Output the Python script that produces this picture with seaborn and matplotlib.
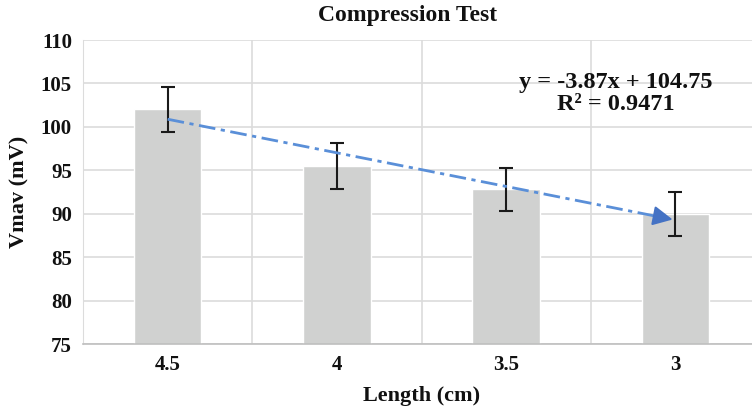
import numpy as np
import pandas as pd
import seaborn as sns
from matplotlib import pyplot as plt

# values
lengths = ['4.5', '4', '3.5', '3']
vmav = [102.0, 95.5, 92.8, 90.0]
err = [2.6, 2.6, 2.5, 2.55]

df = pd.DataFrame({'Length': lengths, 'Vmav': vmav})

sns.set_style('whitegrid')
plt.rcParams['font.family'] = ['Liberation Serif', 'DejaVu Serif']
plt.rcParams['font.weight'] = 'bold'
plt.rcParams['text.color'] = '#111111'
plt.rcParams['axes.labelcolor'] = '#111111'
plt.rcParams['xtick.color'] = '#111111'
plt.rcParams['ytick.color'] = '#111111'

fig = plt.figure(figsize=(7.52, 4.09), dpi=100)
ax = fig.add_axes([83 / 752, 1 - 344 / 409, 677 / 752, 304 / 409])

sns.barplot(data=df, x='Length', y='Vmav', color='#d0d1d0', width=0.4,
            saturation=1, errorbar=None, ax=ax, zorder=2)
ax.errorbar(range(len(lengths)), vmav, yerr=err, fmt='none', ecolor='#1a1a1a',
            elinewidth=1.5, capsize=5, capthick=1.5, zorder=3)

# linear trendline (Excel style: x = 1..n)
xs = np.arange(1, len(vmav) + 1)
slope, icpt = np.polyfit(xs, vmav, 1)
trend = slope * xs + icpt
pos = np.arange(len(vmav))
ax.plot(pos[:-1].tolist() + [pos[-1] - 0.1], list(trend[:-1]) + [slope * (xs[-1] - 0.1) + icpt],
        color='#5a8fd8', lw=2.0, ls=(0, (6, 2, 1.5, 2)), zorder=4)
ax.annotate('', xy=(pos[-1], trend[-1]), xytext=(pos[-1] - 0.14, slope * (xs[-1] - 0.14) + icpt),
            arrowprops=dict(arrowstyle='-|>', color='#4472c4', lw=1.5, mutation_scale=30),
            zorder=5)

ax.text(2.65, 103.8, 'y = -3.87x + 104.75\nR² = 0.9471', ha='center', va='center',
        fontsize=17.5, fontweight='bold', linespacing=1.05)

ax.set_ylim(75, 110)
ax.set_yticks(range(75, 111, 5))
ax.set_xlim(-0.5, 3.5)
ax.set_xticks([0.5, 1.5, 2.5], minor=True)
ax.grid(False)
ax.grid(axis='y', which='major', color='#dcdcdc', lw=1.2, zorder=0)
ax.grid(axis='x', which='minor', color='#dcdcdc', lw=1.2, zorder=0)
ax.tick_params(axis='both', which='both', length=0, labelsize=15, pad=8)
for lab in ax.get_xticklabels() + ax.get_yticklabels():
    lab.set_fontweight('bold')
for s in ['top', 'right']:
    ax.spines[s].set_visible(False)
ax.spines['left'].set_color('#dcdcdc')
ax.spines['bottom'].set_color('#bfbfbf')
ax.spines['bottom'].set_linewidth(1.2)

ax.set_xlabel('Length (cm)', fontsize=16, fontweight='bold', labelpad=8)
ax.set_ylabel('Vmav (mV)', fontsize=16, fontweight='bold', labelpad=8)
fig.text(408 / 752, 1 - 15 / 409, 'Compression Test', ha='center', va='center',
         fontsize=17, fontweight='bold')

fig.savefig('out.png', dpi=100)
